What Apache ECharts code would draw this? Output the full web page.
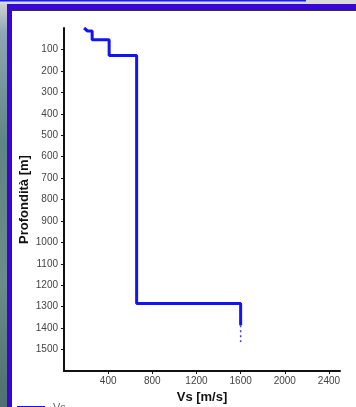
<!DOCTYPE html>
<html>
<head>
<meta charset="utf-8">
<script src="https://cdn.jsdelivr.net/npm/echarts@6/dist/echarts.min.js"></script>
<style>
  html, body { margin: 0; padding: 0; background: #ffffff; }
  #chart { width: 356px; height: 407px; }
</style>
</head>
<body>
<div id="chart"></div>
<script>
// profilo Vs (m/s) contro profondità (m)
const vsValues = [182, 213, 255, 255, 409, 409, 658, 658, 1600, 1600];
const depthValues = [0, 14, 14, 55, 55, 128, 128, 1285, 1285, 1387];
// prolungamento tratteggiato sotto l'ultimo strato
const vsTail = [1600, 1600];
const depthTail = [1387, 1465];
// etichette degli assi
const xTicks = [400, 800, 1200, 1600, 2000, 2400];
const yTicks = [100, 200, 300, 400, 500, 600, 700, 800, 900, 1000, 1100, 1200, 1300, 1400, 1500];

const chart = echarts.init(document.getElementById("chart"));

const lineData = vsValues.map((v, i) => [v, depthValues[i]]);
const tailData = vsTail.map((v, i) => [v, depthTail[i]]);

chart.setOption({
  backgroundColor: "#ffffff",
  animation: false,
  textStyle: { fontFamily: "Liberation Sans, Arial, sans-serif" },
  graphic: [
    // striscia sinistra (sfondo foto)
    {
      type: "rect",
      shape: { x: 0, y: 0, width: 7, height: 407 },
      style: {
        fill: new echarts.graphic.LinearGradient(0, 0, 0, 1, [
          { offset: 0, color: "#d6d6d6" },
          { offset: 0.08, color: "#8fa6b4" },
          { offset: 0.35, color: "#5f8584" },
          { offset: 0.7, color: "#6c8c8a" },
          { offset: 1, color: "#4f6f70" }
        ])
      },
      z: 10
    },
    // fascia superiore
    {
      type: "rect",
      shape: { x: 0, y: 0, width: 356, height: 4 },
      style: { fill: "#dadada" },
      z: 10
    },
    {
      type: "rect",
      shape: { x: 0, y: 0, width: 306, height: 1.5 },
      style: { fill: "#1a1aff" },
      z: 11
    },
    // cornice blu
    {
      type: "rect",
      shape: { x: 7, y: 4, width: 349, height: 6 },
      style: { fill: "#3a06d6" },
      z: 10
    },
    {
      type: "rect",
      shape: { x: 7, y: 4, width: 5, height: 403 },
      style: { fill: "#3a06d6" },
      z: 10
    },
    {
      type: "rect",
      shape: { x: 12, y: 10, width: 344, height: 1 },
      style: { fill: "#333333" },
      z: 10
    }
  ],
  grid: {
    left: 64,
    top: 28,
    right: 16,
    bottom: 36,
    containLabel: false,
    outerBoundsMode: "none"
  },
  legend: {
    data: ["Vs"],
    left: 12,
    top: 397,
    icon: "rect",
    itemWidth: 28,
    itemHeight: 3,
    itemGap: 8,
    textStyle: { color: "#666666", fontSize: 11, padding: [0, 0, 0, 3] }
  },
  xAxis: {
    type: "value",
    min: 0,
    max: 2500,
    name: "Vs [m/s]",
    nameLocation: "middle",
    nameGap: 20,
    nameMoveOverlap: false,
    nameTextStyle: { color: "#111111", fontSize: 13, fontWeight: "bold" },
    axisLine: { onZero: false, lineStyle: { color: "#111111", width: 2 } },
    axisTick: { show: true, length: 3, customValues: xTicks, lineStyle: { color: "#111111" } },
    axisLabel: { margin: 5, color: "#444444", fontSize: 10, customValues: xTicks, formatter: (v) => String(v) },
    splitLine: { show: false }
  },
  yAxis: {
    type: "value",
    inverse: true,
    min: 0,
    max: 1600,
    name: "Profondità [m]",
    nameLocation: "middle",
    nameGap: 33,
    nameMoveOverlap: false,
    nameTextStyle: { color: "#111111", fontSize: 13, fontWeight: "bold" },
    axisLine: { onZero: false, lineStyle: { color: "#111111", width: 2 } },
    axisTick: { show: true, length: 3, customValues: yTicks, lineStyle: { color: "#111111" } },
    axisLabel: { margin: 6, color: "#444444", fontSize: 10, customValues: yTicks, formatter: (v) => String(v) },
    splitLine: { show: false }
  },
  series: [
    {
      name: "Vs",
      type: "line",
      data: lineData,
      showSymbol: false,
      lineStyle: { color: "#1414f0", width: 3 },
      itemStyle: { color: "#1414f0" }
    },
    {
      name: "tail",
      type: "line",
      data: tailData,
      showSymbol: false,
      lineStyle: { color: "#3c3cf0", width: 1.5, type: [2, 3] }
    }
  ]
});
</script>
</body>
</html>
